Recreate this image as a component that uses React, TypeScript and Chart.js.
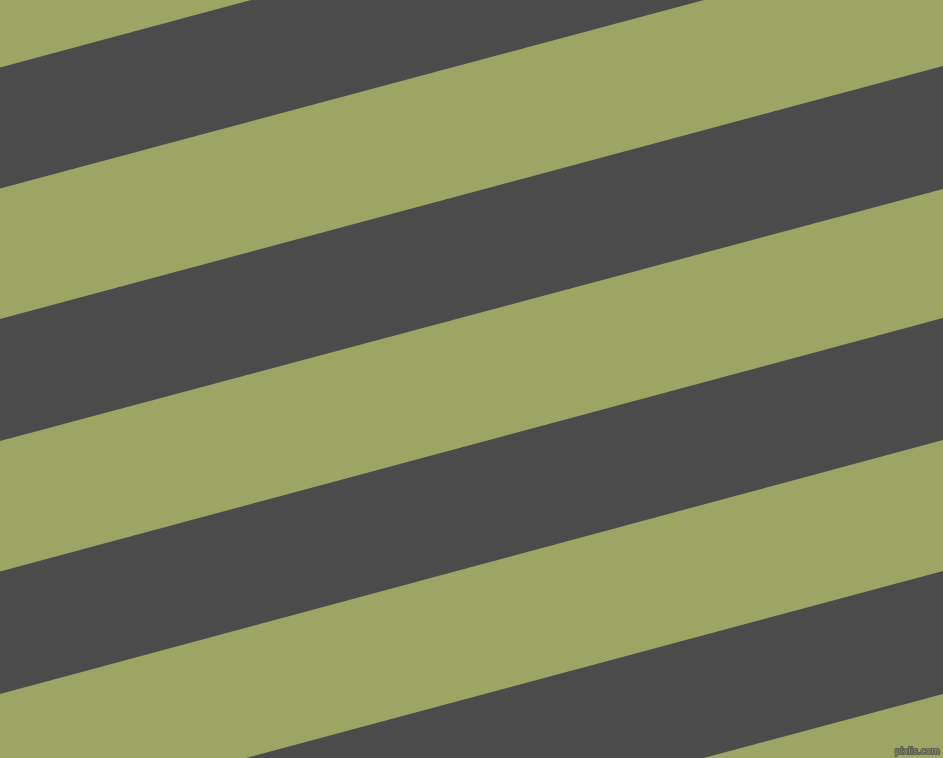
import { useEffect, useRef } from 'react';
import Chart from 'chart.js/auto';

// Stripe edges, read at the left (x = 0) and right (x = 943) edge of the picture.
const xEdges = [0, 943];
const bandTopLeft = [67.5, 319, 571.5, 824];
const bandBottomLeft = [188.5, 441, 694, 946];
const bandTopRight = [-186, 66, 318, 571];
const bandBottomRight = [-64, 189, 440, 694];

const GREEN = '#9ca564';
const DARK = '#4b4b4b';

const backgroundPlugin = {
  id: 'stripeBackground',
  beforeDraw(chart: Chart) {
    const { ctx, width, height } = chart;
    ctx.save();
    ctx.fillStyle = GREEN;
    ctx.fillRect(0, 0, width, height);
    ctx.restore();
  }
};

const watermarkPlugin = {
  id: 'watermark',
  afterDraw(chart: Chart) {
    const { ctx, width, height } = chart;
    ctx.save();
    ctx.font = '9px "DejaVu Sans"';
    ctx.textAlign = 'right';
    ctx.textBaseline = 'bottom';
    ctx.lineJoin = 'round';
    ctx.lineWidth = 2;
    ctx.strokeStyle = '#56584c';
    ctx.strokeText('pixlis.com', width - 3, height - 2);
    ctx.fillStyle = '#90956a';
    ctx.fillText('pixlis.com', width - 3, height - 2);
    ctx.restore();
  }
};

export default function App() {
  const chartRef = useRef<HTMLCanvasElement>(null);
  const chartInstance = useRef<Chart | null>(null);

  useEffect(() => {
    if (!chartRef.current) return;
    if (chartInstance.current) {
      chartInstance.current.destroy();
    }
    const ctx = chartRef.current.getContext('2d');
    if (!ctx) return;

    // each dark band = top edge + bottom edge filled to the previous dataset
    const datasets: any[] = [];
    bandTopLeft.forEach((_, i) => {
      datasets.push({
        label: `band ${i + 1} top`,
        data: [
          { x: xEdges[0], y: bandTopLeft[i] },
          { x: xEdges[1], y: bandTopRight[i] }
        ],
        borderWidth: 0,
        borderColor: DARK,
        pointRadius: 0,
        fill: false
      });
      datasets.push({
        label: `band ${i + 1} bottom`,
        data: [
          { x: xEdges[0], y: bandBottomLeft[i] },
          { x: xEdges[1], y: bandBottomRight[i] }
        ],
        borderWidth: 0,
        borderColor: DARK,
        backgroundColor: DARK,
        pointRadius: 0,
        fill: '-1'
      });
    });

    chartInstance.current = new Chart(ctx, {
      type: 'line',
      data: { datasets },
      options: {
        animation: false,
        responsive: true,
        maintainAspectRatio: false,
        layout: { padding: 0 },
        plugins: {
          legend: { display: false },
          title: { display: false },
          tooltip: { enabled: false },
          filler: { propagate: false }
        },
        scales: {
          x: { type: 'linear', min: 0, max: 943, display: false },
          y: { type: 'linear', min: 0, max: 758, reverse: true, display: false }
        }
      },
      plugins: [backgroundPlugin, watermarkPlugin]
    });

    return () => {
      if (chartInstance.current) {
        chartInstance.current.destroy();
        chartInstance.current = null;
      }
    };
  }, []);

  return (
    <div style={{ position: 'fixed', left: 0, top: 0, width: 943, height: 758 }}>
      <canvas ref={chartRef}></canvas>
    </div>
  );
}
